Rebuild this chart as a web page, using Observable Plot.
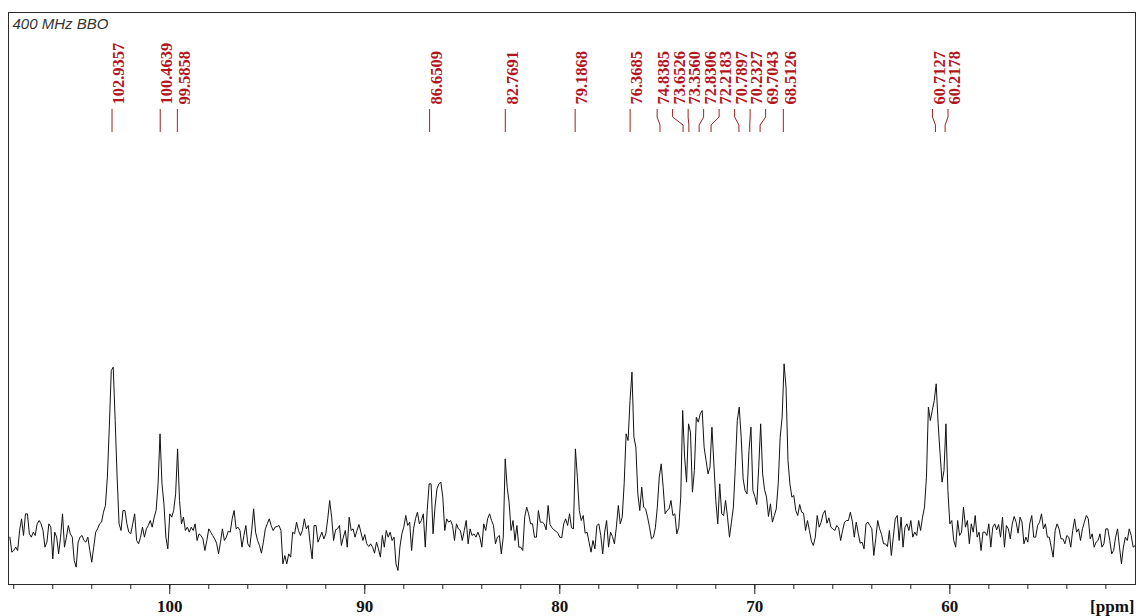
<!DOCTYPE html>
<html><head><meta charset="utf-8">
<script src="https://cdn.jsdelivr.net/npm/d3@7"></script>
<script src="https://cdn.jsdelivr.net/npm/@observablehq/plot@0.6"></script>
<style>
html,body{margin:0;padding:0;background:#fff;}
#chart svg{display:block;}
</style></head><body><div id="chart"></div>
<script>
// ---- data ----
const title = "400 MHz BBO";
const axisUnit = "[ppm]";
const ppmStart = 108.2;   // first sample (ppm)
const ppmStep = 0.1;      // sampling step (ppm)
const intensity = [
-10,-55,-50,-40,-50,10,45,-5,60,60,
0,-10,5,-5,30,40,30,10,-40,-25,
30,20,-75,5,-10,-60,-10,60,-40,-10,
25,0,-10,-80,-100,-25,-10,-5,-20,-25,
-10,-50,-85,-40,5,15,30,35,65,85,
170,320,490,500,340,170,30,10,70,70,
30,5,0,30,60,-20,-30,-10,20,-10,
15,25,40,20,50,70,150,300,150,90,
-10,-45,60,50,70,120,255,100,30,50,
10,20,5,
20,10,30,-20,0,-5,-15,-50,-20,15,
5,-5,-15,-28,-60,-25,15,-20,-10,8,
5,45,70,15,20,10,-40,-5,25,-30,
-40,10,75,5,-20,-35,-58,-25,15,30,
45,25,10,20,22,25,10,-90,-65,-90,
-60,-70,5,0,35,10,-5,10,45,15,
25,-30,-75,25,25,-25,-10,5,-15,0,
45,100,50,-20,12,15,25,-35,-10,10,
-40,50,10,15,-10,10,28,5,-20,-2,
-30,-38,-30,-40,-58,-25,
-45,-70,-5,-40,10,-10,5,-20,-10,-90,
-110,-40,0,20,55,25,35,-50,15,45,
65,30,40,60,-40,70,150,150,0,80,
135,150,155,110,10,45,35,40,25,-20,
30,15,10,-20,10,40,-30,15,-5,0,
-10,5,-10,-40,30,10,45,60,40,25,
-30,-10,-5,-60,-10,225,140,95,10,40,
-20,25,-40,-40,-50,50,80,60,30,30,
-10,-10,70,35,35,30,12,85,28,18,
12,8,2,-10,-12,30,45,
25,60,18,15,255,170,70,40,55,2,
5,-25,-55,-20,-45,25,30,-5,-60,5,
40,-40,5,-8,-30,20,85,30,50,150,
300,280,400,485,290,260,120,70,140,80,
75,50,20,-15,-10,18,80,170,210,140,
60,70,75,100,55,60,0,20,110,370,
230,155,330,305,125,190,350,335,360,370,
260,220,180,200,320,210,100,30,150,60,
55,100,50,-10,35,80,200,340,380,290,
165,130,120,250,320,130,
112,88,200,330,180,132,110,52,90,35,
55,75,150,290,350,510,440,220,150,110,
115,70,55,88,65,62,10,40,10,-22,
-35,-10,55,20,35,60,70,32,48,20,
15,10,25,18,-20,10,35,40,40,65,
38,-10,35,2,-28,-25,-45,30,35,25,
15,-65,-15,40,15,-2,-30,-30,-38,10,
-65,-10,45,55,-20,50,-40,20,30,10,
40,-10,5,-5,40,10,50,80,170,380,
340,370,400,450,330,240,155,
190,330,130,30,40,-20,-40,40,-5,5,
80,20,40,-30,30,5,55,-10,5,-50,
5,5,-5,30,-40,20,30,12,28,-10,
50,-40,25,15,-15,30,52,35,2,50,
35,-30,-10,-25,30,55,-10,-10,25,35,
60,15,30,-10,-10,-40,-70,10,30,15,
-15,-15,-30,-5,-10,-40,10,45,5,15,
-20,15,35,55,45,-15,0,-40,-25,-20,
0,-40,-30,15,15,-20,-60,-50,-10,15,
-40,-90,-40,-10,-20,15,-5,-40,-35
];
const peakLabels = ["102.9357","100.4639","99.5858","86.6509","82.7691","79.1868","76.3685",
  "74.8385","73.6526","73.3560","72.8306","72.2183","70.7897","70.2327","69.7043","68.5126",
  "60.7127","60.2178"];
const minorTicks = [108,106,104,102,100,98,96,94,92,90,88,86,84,82,80,78,76,74,72,70,68,66,64,62,60,58,56,54,52];
const majorTicks = [100,90,80,70,60];

// ---- layout ----
const W = 1136, H = 616;
const M = {top: 12, right: 1, bottom: 32, left: 8};
const xDomain = [108.27, 50.48];
const yDomain = [-152, 1564];
const serif = "'Liberation Serif','Times New Roman',serif";
const labelRed = "#b3141e";

const spectrum = intensity.map((v, i) => ({ppm: ppmStart - i * ppmStep, v}));

// spread peak labels so they don't overlap (min gap in px)
const pxPerPpm = (W - M.left - M.right) / (xDomain[0] - xDomain[1]);
const gap = 15.5 / pxPerPpm;
const peaks = peakLabels.map(s => ({text: s, ppm: +s}));
function place(c) {
  const n = c.length, m = d3.mean(c, d => d.ppm);
  return c.map((d, i) => m + ((n - 1) / 2 - i) * gap);
}
let clusters = peaks.map(p => [p]);
let changed = true;
while (changed) {
  changed = false;
  for (let i = 0; i < clusters.length - 1; i++) {
    const a = place(clusters[i]), b = place(clusters[i + 1]);
    if (a[a.length - 1] - b[0] < gap - 1e-9) {
      clusters[i] = clusters[i].concat(clusters[i + 1]);
      clusters.splice(i + 1, 1);
      changed = true; break;
    }
  }
}
const labels = clusters.flatMap(c => { const pos = place(c); return c.map((d, i) => ({...d, lx: pos[i]})); });

const plot = Plot.plot({
  width: W, height: H,
  marginTop: M.top, marginRight: M.right, marginBottom: M.bottom, marginLeft: M.left,
  style: {background: "#fff", overflow: "visible"},
  x: {domain: xDomain},
  y: {domain: yDomain, axis: null},
  marks: [
    Plot.line(spectrum, {x: "ppm", y: "v", stroke: "#111", strokeWidth: 1}),
    Plot.frame({stroke: "#2a2a2a", strokeWidth: 1}),
    Plot.axisX(minorTicks, {anchor: "bottom", tickSize: 5, tickFormat: () => "", label: null, stroke: "#222"}),
    Plot.axisX(majorTicks, {anchor: "bottom", tickSize: 10, tickPadding: 5, label: null, stroke: "#222",
      fontSize: 17, fontWeight: "bold", fontFamily: serif, fill: "#111"}),
    Plot.text([axisUnit], {frameAnchor: "bottom-right", textAnchor: "end", lineAnchor: "top", dx: -1, dy: 15,
      fontSize: 17, fontWeight: "bold", fontFamily: serif, fill: "#111"}),
    Plot.text([title], {frameAnchor: "top-left", textAnchor: "start", lineAnchor: "top", dx: 4, dy: 6,
      fontSize: 15, fontStyle: "italic", fontFamily: "'Liberation Sans',Arial,sans-serif", fill: "#333"}),
    Plot.text(labels, {x: "lx", text: "text", frameAnchor: "top", dy: 92, rotate: -90, textAnchor: "start",
      fontSize: 16.5, fontWeight: "bold", fontFamily: serif, fill: labelRed})
  ]
});

// leader lines from labels to peaks, using the plot's own x scale
const xs = plot.scale("x");
const svg = d3.select(plot);
const g = svg.append("g").attr("fill", "none").attr("stroke", "#9a2525").attr("stroke-width", 1);
labels.forEach(d => {
  const lx = xs.apply(d.lx), px = xs.apply(d.ppm);
  g.append("path").attr("d", `M${lx},109V117L${px},125V132`);
});

document.getElementById("chart").appendChild(plot);
</script>
</body></html>
